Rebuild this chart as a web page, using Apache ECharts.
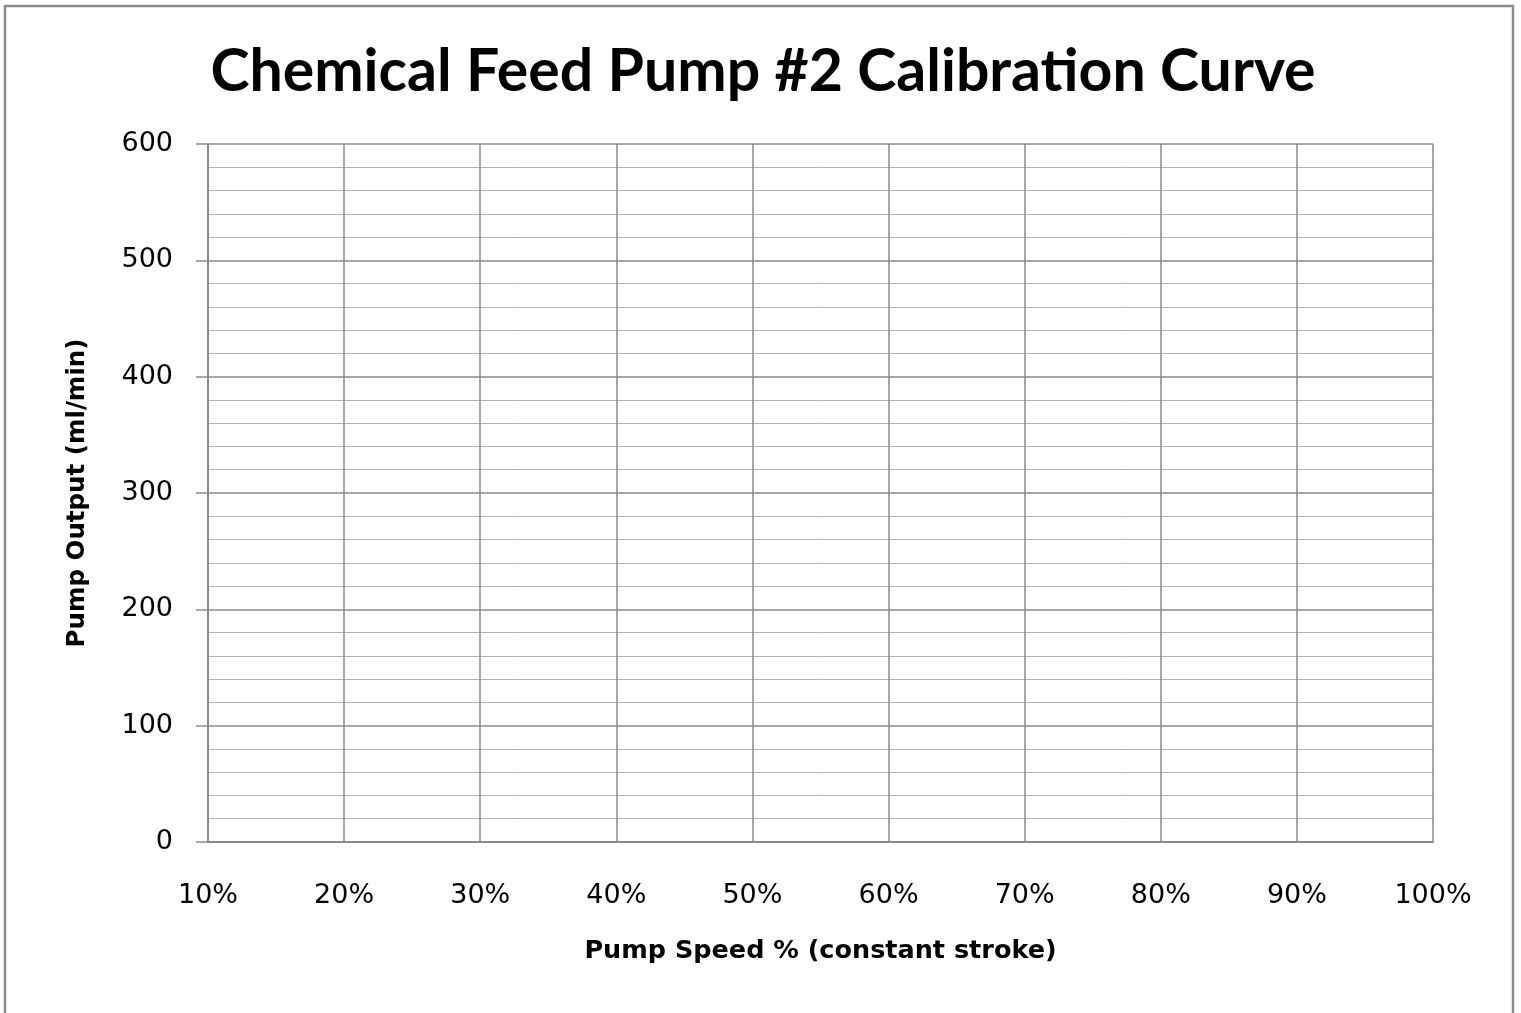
<!DOCTYPE html>
<html>
<head>
<meta charset="utf-8">
<script src="https://cdn.jsdelivr.net/npm/echarts@6/dist/echarts.min.js"></script>
<style>
html,body{margin:0;padding:0;background:#fff;}
#chart{width:1521px;height:1013px;}
</style>
</head>
<body>
<div id="chart"></div>
<script>
// Chart text
const chartTitle = 'Chemical Feed Pump #2 Calibration Curve';
const xAxisTitle = 'Pump Speed % (constant stroke)';
const yAxisTitle = 'Pump Output (ml/min)';
// Axis ranges (percent speed, ml/min)
const speedRange = [10, 100];
const speedStep = 10;
const outputRange = [0, 600];
const outputStep = 100;
const outputMinorSplits = 5;
// Calibration points: the reference chart is a blank form, no data plotted
const calibrationSpeed = [];
const calibrationOutput = [];

const chart = echarts.init(document.getElementById('chart'), null, {renderer: 'canvas'});
const titleFont = 'Lato, "Open Sans", sans-serif';
const labelFont = '"DejaVu Sans", Verdana, sans-serif';
const gridColor = '#8a8a8a';

chart.setOption({
  animation: false,
  backgroundColor: '#fff',
  title: {
    text: chartTitle,
    left: 758,
    textAlign: 'center',
    top: 37,
    textStyle: {fontFamily: titleFont, fontSize: 59, fontWeight: 'bold', color: '#000'}
  },
  graphic: [{
    type: 'rect',
    shape: {x: 5, y: 6, width: 1508, height: 1100},
    style: {fill: 'none', stroke: '#8c8c8c', lineWidth: 2.5},
    silent: true
  }],
  grid: {left: 208, top: 144, right: 88, bottom: 171, containLabel: false},
  xAxis: {
    type: 'value',
    min: speedRange[0], max: speedRange[1], interval: speedStep,
    name: xAxisTitle,
    nameLocation: 'middle',
    nameGap: 96,
    nameTextStyle: {fontFamily: labelFont, fontSize: 25.5, fontWeight: 'bold', color: '#000'},
    axisLine: {show: true, lineStyle: {color: gridColor, width: 2}},
    axisTick: {show: false},
    axisLabel: {margin: 40, formatter: '{value}%', fontFamily: labelFont, fontSize: 27, color: '#000'},
    splitLine: {show: true, lineStyle: {color: gridColor, width: 1.5}}
  },
  yAxis: {
    type: 'value',
    min: outputRange[0], max: outputRange[1], interval: outputStep,
    name: yAxisTitle,
    nameLocation: 'middle',
    nameGap: 118,
    nameRotate: 90,
    nameTextStyle: {fontFamily: labelFont, fontSize: 24.5, fontWeight: 'bold', color: '#000'},
    axisLine: {show: true, lineStyle: {color: gridColor, width: 2}},
    axisTick: {show: true, length: 12, lineStyle: {color: gridColor, width: 1.5}},
    minorTick: {show: false, splitNumber: outputMinorSplits},
    minorSplitLine: {show: true, lineStyle: {color: '#b4b4b4', width: 1}},
    axisLabel: {margin: 35, fontFamily: labelFont, fontSize: 27, color: '#000'},
    splitLine: {show: true, lineStyle: {color: gridColor, width: 1.5}}
  },
  series: [{
    type: 'scatter',
    data: calibrationSpeed.map((s, i) => [s, calibrationOutput[i]])
  }]
});
</script>
</body>
</html>
